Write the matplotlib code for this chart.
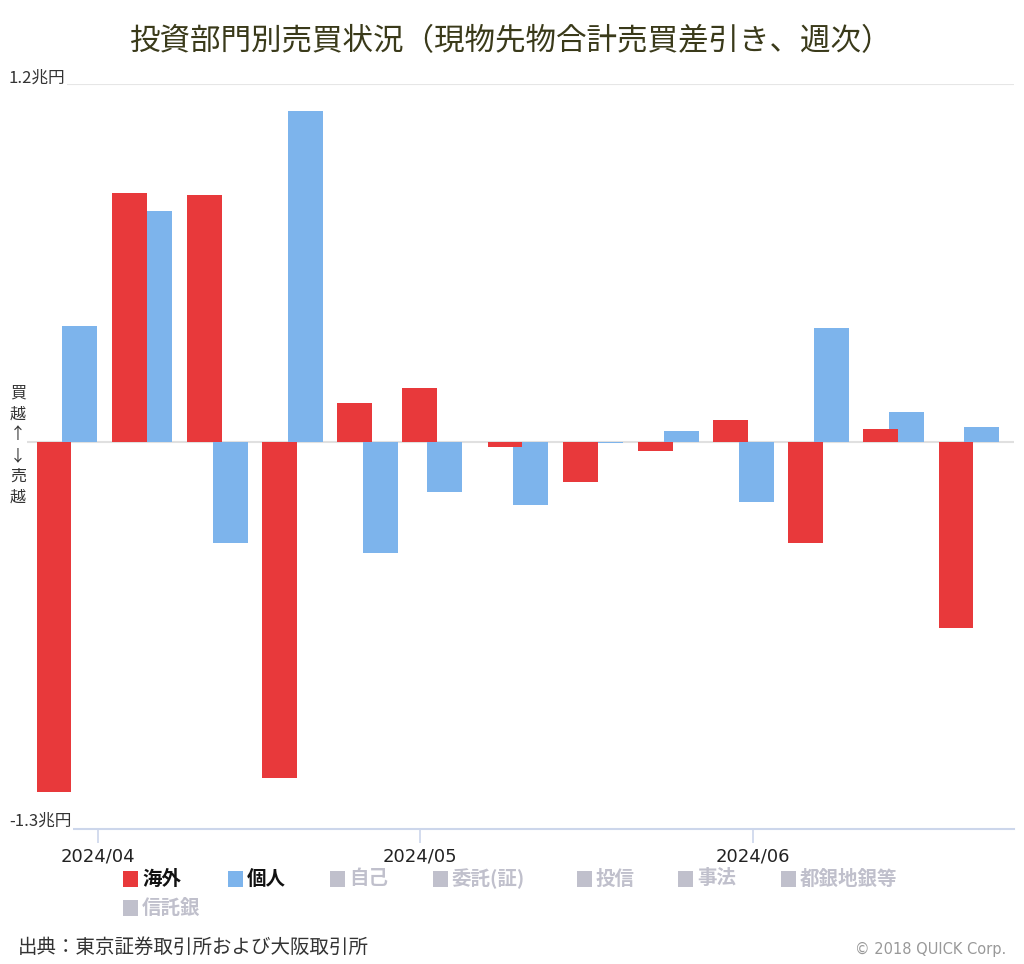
import datetime as dt
import matplotlib
matplotlib.use("Agg")
import matplotlib.pyplot as plt
import matplotlib.dates as mdates
from matplotlib.patches import Rectangle

plt.rcParams['font.family'] = ['Noto Sans CJK JP', 'DejaVu Sans']

# weekly net buy/sell (trillion yen)
weeks = ["2024-03-29", "2024-04-05", "2024-04-12", "2024-04-19", "2024-04-26",
         "2024-05-02", "2024-05-10", "2024-05-17", "2024-05-24", "2024-05-31",
         "2024-06-07", "2024-06-14", "2024-06-21"]
kaigai = [-1.176, 0.834, 0.827, -1.129, 0.128, 0.180, -0.019, -0.134, -0.031,
          0.072, -0.341, 0.042, -0.627]
kojin = [0.388, 0.775, -0.341, 1.109, -0.374, -0.168, -0.213, -0.006, 0.036,
         -0.202, 0.381, 0.100, 0.048]

month_ticks = ["2024-04-01", "2024-05-01", "2024-06-01"]
month_labels = ["2024/04", "2024/05", "2024/06"]

legend_names = ["海外", "個人", "自己", "委託(証)", "投信", "事法", "都銀地銀等", "信託銀"]
legend_colors = ["#e8393b", "#7db4ec"] + ["#c0c0cc"] * 6
legend_text_colors = ["#111111", "#111111"] + ["#c0c0cc"] * 6

RED = "#e8393b"
BLUE = "#7db4ec"
W, H = 1024, 964


def px(x, y):
    return x / W, 1 - y / H


def main():
    fig = plt.figure(figsize=(W / 100, H / 100), dpi=100)
    ax = fig.add_axes([27 / W, 1 - 829 / H, 987 / W, 745 / H])

    d = [mdates.date2num(dt.date.fromisoformat(s)) for s in weeks]
    bw = 3.25
    ax.bar([x + 1.3 for x in d], kojin, width=bw, color=BLUE, zorder=2)
    ax.bar([x - 1.1 for x in d], kaigai, width=bw, color=RED, zorder=3)

    left = mdates.date2num(dt.date(2024, 3, 25)) + 0.39
    right = mdates.date2num(dt.date(2024, 6, 25)) + 0.3
    ax.set_xlim(left, right)
    ax.set_ylim(-1.3, 1.2)

    ax.axhline(0, color="#e0e0e0", lw=1.5, zorder=1)
    ax.axhline(1.2, color="#e6e6e6", lw=1.5, zorder=1)

    for s in ["top", "right", "left"]:
        ax.spines[s].set_visible(False)
    ax.spines["bottom"].set_color("#ccd6eb")
    ax.spines["bottom"].set_linewidth(1.5)
    ax.set_yticks([])
    ticks = [mdates.date2num(dt.date.fromisoformat(s)) for s in month_ticks]
    ax.set_xticks(ticks)
    ax.set_xticklabels(month_labels, fontsize=13, color="#222222",
                       family=["DejaVu Sans"])
    ax.tick_params(axis="x", length=10, width=1.2, color="#ccd6eb", pad=3)

    # y end labels
    fig.text(*px(9, 78), "1.2兆円", fontsize=12, color="#333333", va="center",
             bbox=dict(facecolor="white", edgecolor="none", pad=1))
    fig.text(*px(9, 821), "-1.3兆円", fontsize=12, color="#333333", va="center",
             bbox=dict(facecolor="white", edgecolor="none", pad=1))
    fig.text(*px(18, 445), "買\n越\n↑\n↓\n売\n越", fontsize=11.5, color="#333333",
             ha="center", va="center", linespacing=1.3)

    fig.text(*px(510, 42), "投資部門別売買状況（現物先物合計売買差引き、週次）",
             fontsize=22, color="#3a3a1a", ha="center", va="center")

    # legend
    xs = [123, 228, 330, 433, 577, 678, 781, 123]
    ys = [879] * 7 + [908]
    for name, col, tcol, x, y in zip(legend_names, legend_colors, legend_text_colors, xs, ys):
        fig.patches.append(Rectangle(px(x, y + 8), 15 / W, 16 / H, transform=fig.transFigure,
                                     facecolor=col, edgecolor="none"))
        fig.text(*px(x + 19, y), name, fontsize=14, fontweight="bold", color=tcol,
                 va="center")

    fig.text(*px(18, 947), "出典：東京証券取引所および大阪取引所", fontsize=14,
             color="#333333", va="center")
    fig.text(*px(1006, 949), "© 2018 QUICK Corp.", fontsize=10.5, color="#999999",
             ha="right", va="center", family=["DejaVu Sans"])

    fig.savefig("out.png", dpi=100)


if __name__ == "__main__":
    main()
